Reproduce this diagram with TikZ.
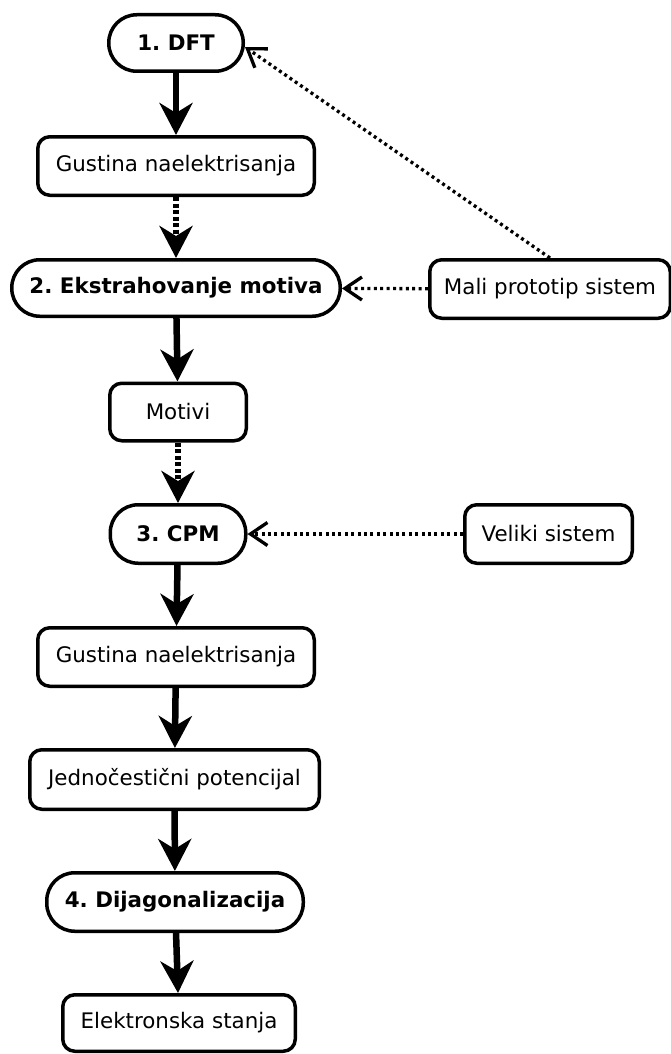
\documentclass[tikz,border=0pt]{standalone}
\usepackage{fontspec}
\setmainfont{DejaVu Sans}
\usetikzlibrary{arrows.meta}
\frenchspacing
\tikzset{
  box/.style={draw, line width=3.5pt, rounded corners=12pt, inner sep=0pt,
    font=\fontsize{21.4pt}{25pt}\selectfont\frenchspacing, align=center},
  pill/.style={box, rounded corners=28pt, font=\fontsize{21.4pt}{25pt}\selectfont\bfseries\frenchspacing},
  solidarrow/.style={line width=6.5pt, -{Stealth[length=32pt,width=33pt,inset=10pt]}},
  thickdotted/.style={line width=6.5pt, dash pattern=on 4pt off 2.5pt,
    -{Stealth[length=32pt,width=33pt,inset=10pt]}},
  thindotted/.style={line width=3.3pt, dash pattern=on 3pt off 3.4pt,
    -{Straight Barb[length=17pt,width=23pt]}}
}
\begin{document}
\begin{tikzpicture}[x=1pt,y=-1pt]
\useasboundingbox (0,0) rectangle (671,1054);
\node[pill, minimum width=134.5pt, minimum height=56.5pt] (dft) at (176,43) {1. DFT};
\node[box, minimum width=276.5pt, minimum height=58.5pt] (g1) at (176,166) {Gustina naelektrisanja};
\node[pill, minimum width=328.5pt, minimum height=56.5pt] (ekstr) at (176,288) {2. Ekstrahovanje motiva};
\node[box, minimum width=240.5pt, minimum height=58.5pt] (mali) at (550,289) {Mali prototip sistem};
\node[box, minimum width=136.5pt, minimum height=57.5pt] (motivi) at (178,412) {Motivi};
\node[pill, minimum width=135.5pt, minimum height=58.5pt] (cpm) at (178,534) {3. CPM};
\node[box, minimum width=167.5pt, minimum height=58.5pt] (veliki) at (548.5,534) {Veliki sistem};
\node[box, minimum width=276.5pt, minimum height=58.5pt] (g2) at (176,657) {Gustina naelektrisanja};
\node[box, minimum width=289.5pt, minimum height=59.5pt] (jedn) at (174.5,779.5) {Jednočestični potencijal};
\node[pill, minimum width=256.5pt, minimum height=58.5pt] (dijag) at (175,902) {4. Dijagonalizacija};
\node[box, minimum width=232.5pt, minimum height=56.5pt] (elektr) at (179,1023) {Elektronska stanja};

\draw[solidarrow] (dft) -- (g1);
\draw[thickdotted] (g1) -- (ekstr);
\draw[solidarrow] (ekstr) -- (motivi);
\draw[thickdotted] (motivi) -- (cpm);
\draw[solidarrow] (cpm) -- (g2);
\draw[solidarrow] (g2) -- (jedn);
\draw[solidarrow] (jedn) -- (dijag);
\draw[solidarrow] (dijag) -- (elektr);
\draw[thindotted] (mali) -- (ekstr);
\draw[thindotted] (veliki) -- (cpm);
\draw[thindotted] (mali.north) -- ([yshift=-4pt]dft.east);
\end{tikzpicture}
\end{document}
